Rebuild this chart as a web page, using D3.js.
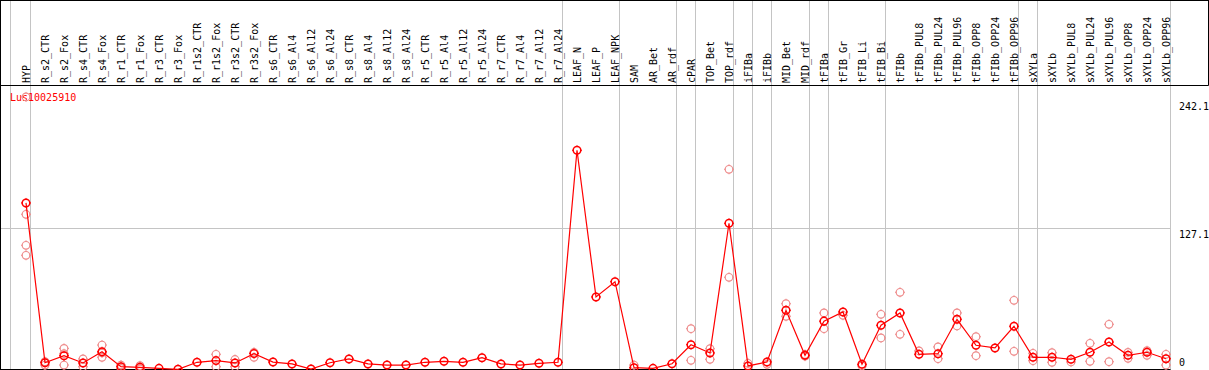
<!DOCTYPE html>
<html>
<head>
<meta charset="utf-8">
<script src="https://cdn.jsdelivr.net/npm/d3@7"></script>
<style>
  body { margin: 0; background: #fff; }
  svg { display: block; font-family: "DejaVu Sans Mono", monospace; }
</style>
</head>
<body>
<svg id="chart" width="1209" height="370"></svg>
<script>
// sample names, in column order
const categories = [
  'HYP', 'R_s2_CTR', 'R_s2_Fox', 'R_s4_CTR', 'R_s4_Fox', 'R_r1_CTR', 'R_r1_Fox',
  'R_r3_CTR', 'R_r3_Fox', 'R_r1s2_CTR', 'R_r1s2_Fox', 'R_r3s2_CTR', 'R_r3s2_Fox',
  'R_s6_CTR', 'R_s6_Al4', 'R_s6_Al12', 'R_s6_Al24', 'R_s8_CTR', 'R_s8_Al4',
  'R_s8_Al12', 'R_s8_Al24', 'R_r5_CTR', 'R_r5_Al4', 'R_r5_Al12', 'R_r5_Al24',
  'R_r7_CTR', 'R_r7_Al4', 'R_r7_Al12', 'R_r7_Al24', 'LEAF_N', 'LEAF_P', 'LEAF_NPK',
  'SAM', 'AR_Bet', 'AR_rdf', 'cPAR', 'TOP_Bet', 'TOP_rdf', 'iFIBa', 'iFIBb',
  'MID_Bet', 'MID_rdf', 'tFIBa', 'tFIB_Gr', 'tFIB_Li', 'tFIB_Bi', 'tFIBb',
  'tFIBb_PUL8', 'tFIBb_PUL24', 'tFIBb_PUL96', 'tFIBb_OPP8', 'tFIBb_OPP24', 'tFIBb_OPP96',
  'sXYLa', 'sXYLb', 'sXYLb_PUL8', 'sXYLb_PUL24', 'sXYLb_PUL96', 'sXYLb_OPP8',
  'sXYLb_OPP24', 'sXYLb_OPP96'
];

// mean expression per sample
const means = [
  149.9, 6.1, 12.4, 5.9, 16.0, 2.5, 2.0,
  1.0, 0.2, 6.5, 8.0, 5.9, 14.3,
  6.7, 5.0, 0.4, 6.1, 9.5, 5.0,
  4.0, 4.0, 6.5, 7.4, 6.5, 10.6,
  5.0, 4.0, 5.6, 6.5, 197.3, 65.3, 79.0,
  1.6, 1.0, 5.2, 22.3, 14.9, 131.6, 3.2, 6.8,
  53.3, 12.8, 43.5, 51.8, 4.7, 39.8, 50.9,
  13.7, 14.2, 45.2, 21.8, 19.4, 38.9,
  11.0, 11.0, 9.2, 15.5, 24.7, 12.8,
  15.5, 9.7
];

// individual replicate values per sample
const replicates = [
  [245.3, 139.7, 111.8, 102.8], [7.0, 4.0], [19.0, 14.2, 4.0], [9.5, 2.5], [22.0, 15.0, 11.0], [4.0, 1.0], [3.4, 0.6],
  [], [], [], [13.7, 2.5], [9.0, 2.5], [15.5, 11.0],
  [], [], [], [], [], [],
  [], [], [], [], [], [],
  [], [], [], [], [], [], [],
  [4.0], [], [], [36.7, 8.3], [18.7, 9.2], [180.2, 83.0], [5.6], [4.7],
  [59.2, 47.9], [13.5, 12.0], [50.9, 36.7], [48.8], [3.2], [49.7, 28.4], [69.5, 31.7],
  [16.7], [20.3, 9.7], [50.9, 39.2], [29.5, 12.4], [], [62.3, 16.4],
  [14.6, 7.9], [15.1, 6.5], [6.8], [23.6, 7.4], [40.7, 7.0], [15.4, 10.1],
  [16.9, 12.8], [13.7, 4.0]
];

// last sample of each group, a separator is drawn after it
const groupEnds = ['HYP', 'R_r7_Al24', 'LEAF_NPK', 'AR_rdf', 'cPAR', 'TOP_rdf', 'iFIBa',
  'iFIBb', 'MID_rdf', 'tFIBa', 'tFIB_Bi', 'tFIBb_OPP96', 'sXYLa', 'sXYLb_OPP96'];

const yTicks = [0, 127.1, 242.1];
const geneName = 'Lus10025910';

const W = 1209, H = 370;
const headerBottom = 85.5, plotBottom = 369.5;
const red = '#ff0000', pale = '#ee8c8c', grid = '#c4c4c4';

const svg = d3.select('#chart');

const x = d3.scalePoint()
  .domain(categories)
  .range([26, 26 + 19 * (categories.length - 1)]);

const y = d3.scaleLinear()
  .domain([0, 242.1])
  .range([plotBottom, 100.5]);

const plotRight = x(categories[categories.length - 1]) + 4.5;

svg.append('rect').attr('width', W).attr('height', H).attr('fill', '#fff');

// vertical group separators, full height
const sepX = [x(categories[0]) - 15.5].concat(groupEnds.map(c => x(c) + 4.5));
svg.append('g').selectAll('line')
  .data(sepX)
  .enter().append('line')
  .attr('x1', d => d).attr('x2', d => d)
  .attr('y1', 0).attr('y2', H)
  .attr('stroke', grid).attr('stroke-width', 1);

// horizontal grid line for the middle tick
svg.append('g').selectAll('line')
  .data(yTicks.filter(t => t > 0 && t < y.domain()[1]))
  .enter().append('line')
  .attr('x1', 1).attr('x2', plotRight)
  .attr('y1', d => Math.round(y(d)) + 0.5).attr('y2', d => Math.round(y(d)) + 0.5)
  .attr('stroke', grid).attr('stroke-width', 1);

// frame
svg.append('line').attr('x1', 0).attr('x2', W).attr('y1', 0.5).attr('y2', 0.5)
  .attr('stroke', '#000');
svg.append('line').attr('x1', 0).attr('x2', 1208.5).attr('y1', headerBottom).attr('y2', headerBottom)
  .attr('stroke', '#000');
svg.append('line').attr('x1', 1208.5).attr('x2', 1208.5).attr('y1', 0).attr('y2', headerBottom)
  .attr('stroke', '#000');
svg.append('line').attr('x1', 0.5).attr('x2', 0.5).attr('y1', 0).attr('y2', H)
  .attr('stroke', '#000');
svg.append('line').attr('x1', 0).attr('x2', plotRight).attr('y1', plotBottom).attr('y2', plotBottom)
  .attr('stroke', '#000');

// rotated sample labels in the header
svg.append('g').selectAll('text')
  .data(categories)
  .enter().append('text')
  .attr('transform', d => `translate(${x(d) + 3.5},83) rotate(-90)`)
  .attr('font-size', 10)
  .attr('fill', '#000')
  .text(d => d);

// gene name
svg.append('text')
  .attr('x', 10).attr('y', 101)
  .attr('font-size', 10)
  .attr('fill', red)
  .text(geneName);

// right axis labels
svg.append('g').selectAll('text')
  .data(yTicks)
  .enter().append('text')
  .attr('x', plotRight + 8.5)
  .attr('y', d => Math.min(y(d) + 9.5, plotBottom - 4))
  .attr('font-size', 10)
  .attr('fill', '#000')
  .text(d => d === 0 ? '0' : d3.format('.1f')(d));

// circle marker with tiny spokes
function marker(g, cx, cy, color, sw) {
  g.append('circle')
    .attr('cx', cx).attr('cy', cy).attr('r', 3.8)
    .attr('fill', 'none').attr('stroke', color).attr('stroke-width', sw);
  g.append('path')
    .attr('d', `M${cx},${cy - 5}v1.2M${cx},${cy + 3.8}v1.2M${cx - 5},${cy}h1.2M${cx + 3.8},${cy}h1.2`)
    .attr('stroke', color).attr('stroke-width', 1);
}

// replicate points
const repG = svg.append('g');
replicates.forEach((reps, i) => {
  reps.forEach(v => marker(repG, x(categories[i]), y(v), pale, 1.2));
});

// mean line
const line = d3.line()
  .x((d, i) => x(categories[i]))
  .y(d => y(d));

svg.append('path')
  .datum(means)
  .attr('d', line)
  .attr('fill', 'none')
  .attr('stroke', red)
  .attr('stroke-width', 1.2);

// mean points
const meanG = svg.append('g');
means.forEach((v, i) => marker(meanG, x(categories[i]), y(v), red, 1.5));
</script>
</body>
</html>
